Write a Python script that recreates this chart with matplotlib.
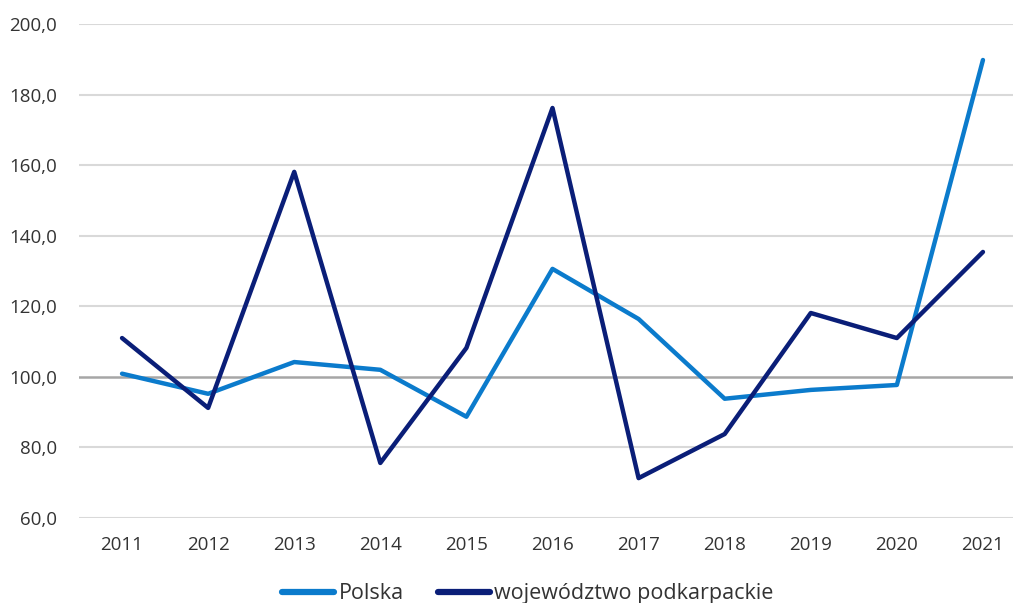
import matplotlib.pyplot as plt
from matplotlib.ticker import FuncFormatter

years = ['2011', '2012', '2013', '2014', '2015', '2016', '2017', '2018', '2019', '2020', '2021']
polska = [100.9, 95.2, 104.2, 102.0, 88.7, 130.6, 116.4, 93.8, 96.3, 97.7, 189.8]
podkarpackie = [111.0, 91.2, 158.1, 75.6, 108.2, 176.2, 71.3, 83.8, 118.1, 111.0, 135.4]

plt.rcParams['font.family'] = ['Open Sans', 'DejaVu Sans']

fig = plt.figure(figsize=(10.13, 6.03), dpi=100)
ax = fig.add_axes([79 / 1013, 85 / 603, 947 / 1013, 494 / 603])

x = range(len(years))
ax.plot(x, polska, color='#0B7BCC', lw=3.2, solid_capstyle='round', label='Polska', zorder=3)
ax.plot(x, podkarpackie, color='#0A1E78', lw=3.2, solid_capstyle='round',
        label='województwo podkarpackie', zorder=3)

ax.set_ylim(60, 200)
ax.set_yticks(range(60, 201, 20))
ax.yaxis.set_major_formatter(FuncFormatter(lambda v, p: f'{v:.1f}'.replace('.', ',')))
ax.set_xlim(-0.5, len(years) - 0.5)
ax.set_xticks(list(x))
ax.set_xticklabels(years)

for v in range(60, 201, 20):
    ax.axhline(v, color='#A6A6A6' if v == 100 else '#D9D9D9', lw=1.8 if v == 100 else 1.5, zorder=1)

for s in ax.spines.values():
    s.set_visible(False)
ax.tick_params(length=0, labelsize=13.5, colors='#333333')
ax.tick_params(axis='y', pad=16)
ax.tick_params(axis='x', pad=13)

leg = ax.legend(loc='upper center', bbox_to_anchor=(0.474, -0.093), ncol=2, frameon=False,
                fontsize=15.5, handlelength=2.4, handletextpad=0.2, columnspacing=1.6,
                labelcolor='#333333')
for h in leg.get_lines():
    h.set_linewidth(4.5)

fig.savefig('out.png', dpi=100)
